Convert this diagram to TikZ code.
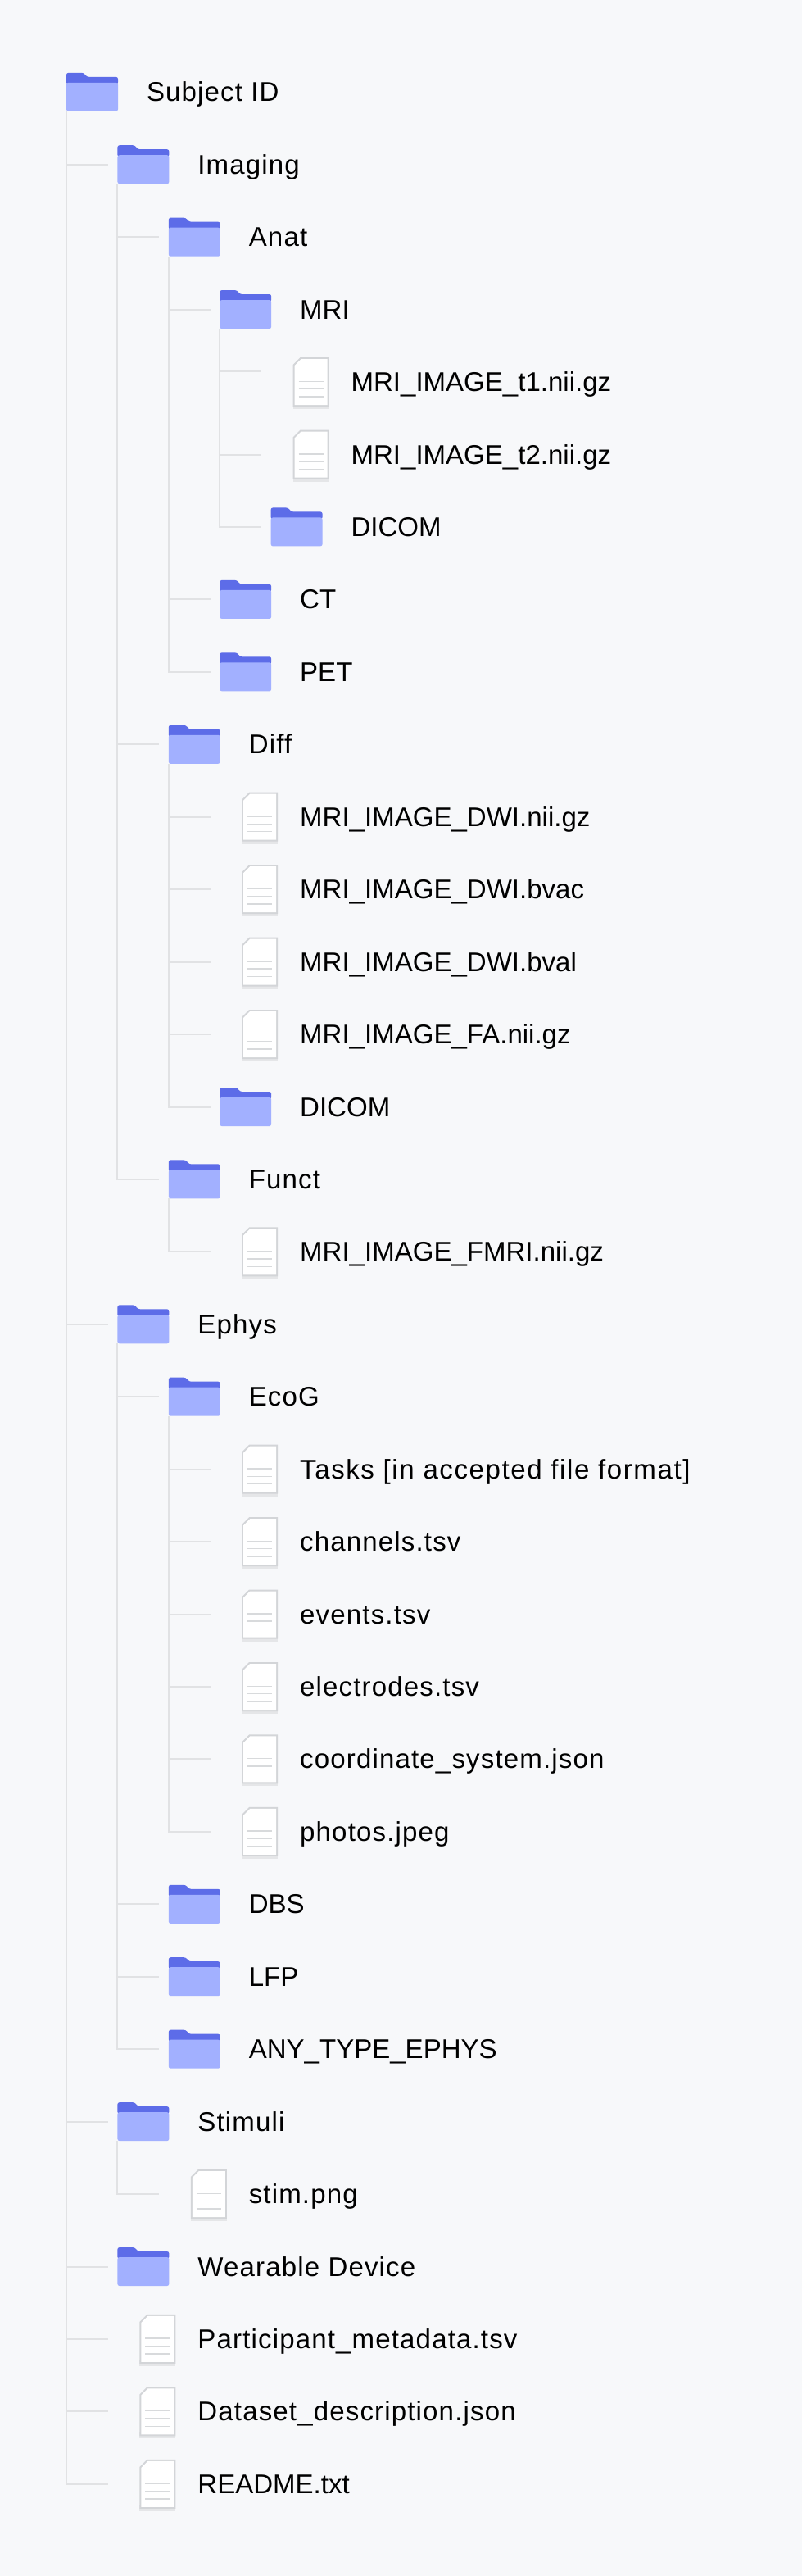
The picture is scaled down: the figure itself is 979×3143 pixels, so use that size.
\documentclass[tikz,border=0pt]{standalone}
\usepackage{fontspec}
\setmainfont{Liberation Sans}
\newfontfamily\lowfont[LetterSpace=3.5]{Liberation Sans}
\usepackage{xcolor}
\definecolor{pagebg}{HTML}{F7F8FA}
\definecolor{folderdark}{HTML}{5D6CE8}
\definecolor{folderlight}{HTML}{A2B0FF}
\definecolor{linkgray}{HTML}{E1E2E4}
\definecolor{sheetedge}{HTML}{D3D5D8}
\definecolor{sheetshade}{HTML}{E5E6E8}
\definecolor{sheetline}{HTML}{D8DADC}
\tikzset{
	folder/.style={inner sep=0, outer sep=0, minimum width=1.26cm, minimum height=0.94cm,
		append after command={\pgfextra{
			\begin{scope}[shift={(\tikzlastnode.north west)}]
				\fill[folderdark, rounded corners=0.05cm] (0,14) -- (0,0) -- (21,0) -- (25,5) -- (63,5) -- (63,14) -- cycle;
				\fill[folderlight, rounded corners=0.05cm] (0,12) -- (63,12) -- (63,47) -- (0,47) -- cycle;
			\end{scope}
		}}},
	sheet/.style={inner sep=0, outer sep=0, minimum width=0.88cm, minimum height=1.32cm,
		append after command={\pgfextra{
			\begin{scope}[shift={(\tikzlastnode.north west)}]
				\fill[sheetshade] (0,58) rectangle (44,66);
				\fill[sheetedge] (0,12) -- (9,3) -- (44,3) -- (44,63) -- (0,63) -- cycle;
				\fill[white] (2,13) -- (10,5) -- (42,5) -- (42,61) -- (2,61) -- cycle;
				\draw[sheetline, line width=0.03cm] (7,32.3) -- (37,32.3);
				\draw[sheetline, line width=0.03cm] (7,41.6) -- (37,41.6);
				\draw[sheetline, line width=0.03cm] (7,51) -- (37,51);
			\end{scope}
		}}},
	lbl/.style={anchor=base west, inner sep=0, outer sep=0, xshift=0.02cm, yshift=-0.23cm, text=black,
		font=\fontsize{18.8pt}{22pt}\selectfont},
	lowlbl/.style={lbl, font=\fontsize{18.8pt}{22pt}\selectfont\lowfont},
	link/.style={draw=linkgray, line width=0.04cm, shorten >=0.234cm},
	sheetlink/.style={draw=linkgray, line width=0.04cm, shorten >=0.774cm}
}

\begin{document}
\begin{tikzpicture}[x=0.02cm, y=-0.02cm]
\useasboundingbox (0,0) rectangle (979,3143);
\fill[pagebg] (0,0) rectangle (979,3143);

\node [folder] (subject) at (112.5,112.3) {};
\node [lowlbl] (subjectlbl) at (178,112.3) {Subject ID};
\node [folder] (imaging) at (174.9,200.7) {};
\node [lowlbl] (imaginglbl) at (240.4,200.7) {Imaging};
\node [folder] (anat) at (237.3,289.2) {};
\node [lowlbl] (anatlbl) at (302.8,289.2) {Anat};
\node [folder] (mri) at (299.7,377.6) {};
\node [lbl] (mrilbl) at (365.2,377.6) {MRI};
\node [sheet] (tone) at (379.6,466.1) {};
\node [lbl] (tonelbl) at (427.6,466.1) {MRI\_IMAGE\_t1.nii.gz};
\node [sheet] (ttwo) at (379.6,554.5) {};
\node [lbl] (ttwolbl) at (427.6,554.5) {MRI\_IMAGE\_t2.nii.gz};
\node [folder] (dicoma) at (362.1,642.9) {};
\node [lbl] (dicomalbl) at (427.6,642.9) {DICOM};
\node [folder] (ct) at (299.7,731.4) {};
\node [lbl] (ctlbl) at (365.2,731.4) {CT};
\node [folder] (pet) at (299.7,819.8) {};
\node [lbl] (petlbl) at (365.2,819.8) {PET};

\node [folder] (diff) at (237.3,908.3) {};
\node [lowlbl] (difflbl) at (302.8,908.3) {Diff};
\node [sheet] (dwinii) at (317.2,996.7) {};
\node [lbl] (dwiniilbl) at (365.2,996.7) {MRI\_IMAGE\_DWI.nii.gz};
\node [sheet] (bvac) at (317.2,1085.1) {};
\node [lbl] (bvaclbl) at (365.2,1085.1) {MRI\_IMAGE\_DWI.bvac};
\node [sheet] (bval) at (317.2,1173.6) {};
\node [lbl] (bvallbl) at (365.2,1173.6) {MRI\_IMAGE\_DWI.bval};
\node [sheet] (fa) at (317.2,1262) {};
\node [lbl] (falbl) at (365.2,1262) {MRI\_IMAGE\_FA.nii.gz};
\node [folder] (dicomb) at (299.7,1350.5) {};
\node [lbl] (dicomblbl) at (365.2,1350.5) {DICOM};

\node [folder] (funct) at (237.3,1438.9) {};
\node [lowlbl] (functlbl) at (302.8,1438.9) {Funct};
\node [sheet] (fmri) at (317.2,1527.3) {};
\node [lbl] (fmrilbl) at (365.2,1527.3) {MRI\_IMAGE\_FMRI.nii.gz};

\node [folder] (ephys) at (174.9,1615.8) {};
\node [lowlbl] (ephyslbl) at (240.4,1615.8) {Ephys};
\node [folder] (ecog) at (237.3,1704.2) {};
\node [lowlbl] (ecoglbl) at (302.8,1704.2) {EcoG};
\node [sheet] (tasks) at (317.2,1792.7) {};
\node [lowlbl] (taskslbl) at (365.2,1792.7) {\addfontfeature{LetterSpace=4.8}Tasks [in accepted file format]};
\node [sheet] (channels) at (317.2,1881.1) {};
\node [lowlbl] (channelslbl) at (365.2,1881.1) {channels.tsv};
\node [sheet] (events) at (317.2,1969.5) {};
\node [lowlbl] (eventslbl) at (365.2,1969.5) {events.tsv};
\node [sheet] (electrodes) at (317.2,2058) {};
\node [lowlbl] (electrodeslbl) at (365.2,2058) {electrodes.tsv};
\node [sheet] (coord) at (317.2,2146.4) {};
\node [lowlbl] (coordlbl) at (365.2,2146.4) {coordinate\_system.json};
\node [sheet] (photos) at (317.2,2234.9) {};
\node [lowlbl] (photoslbl) at (365.2,2234.9) {photos.jpeg};
\node [folder] (dbs) at (237.3,2323.3) {};
\node [lbl] (dbslbl) at (302.8,2323.3) {DBS};
\node [folder] (lfp) at (237.3,2411.7) {};
\node [lbl] (lfplbl) at (302.8,2411.7) {LFP};
\node [folder] (anytype) at (237.3,2500.2) {};
\node [lbl] (anytypelbl) at (302.8,2500.2) {ANY\_TYPE\_EPHYS};

\node [folder] (stimuli) at (174.9,2588.6) {};
\node [lowlbl] (stimulilbl) at (240.4,2588.6) {Stimuli};
\node [sheet] (stim) at (254.8,2677.1) {};
\node [lowlbl] (stimlbl) at (302.8,2677.1) {stim.png};
\node [folder] (wearable) at (174.9,2765.5) {};
\node [lowlbl] (wearablelbl) at (240.4,2765.5) {Wearable Device};
\node [sheet] (participant) at (192.4,2853.9) {};
\node [lowlbl] (participantlbl) at (240.4,2853.9) {Participant\_metadata.tsv};
\node [sheet] (dataset) at (192.4,2942.4) {};
\node [lowlbl] (datasetlbl) at (240.4,2942.4) {Dataset\_description.json};
\node [sheet] (readme) at (192.4,3030.8) {};
\node [lbl] (readmelbl) at (240.4,3030.8) {README.txt};

\draw [link] (subject.south west) |- (imaging.west);
\draw [link] (subject.south west) |- (ephys.west);
\draw [link] (subject.south west) |- (stimuli.west);
\draw [link] (subject.south west) |- (wearable.west);
\draw [sheetlink] (subject.south west) |- (participant.west);
\draw [sheetlink] (subject.south west) |- (dataset.west);
\draw [sheetlink] (subject.south west) |- (readme.west);

\draw [link] (imaging.south west) |- (anat.west);
\draw [link] (imaging.south west) |- (diff.west);
\draw [link] (imaging.south west) |- (funct.west);
\draw [link] (anat.south west) |- (mri.west);
\draw [link] (anat.south west) |- (ct.west);
\draw [link] (anat.south west) |- (pet.west);

\coordinate (toneend) at (319,453);
\draw [link, shorten >=0] (mri.south west) |- (toneend);
\draw [sheetlink] (mri.south west) |- (ttwo.west);
\draw [link] (mri.south west) |- (dicoma.west);

\draw [sheetlink] (diff.south west) |- (dwinii.west);
\draw [sheetlink] (diff.south west) |- (bvac.west);
\draw [sheetlink] (diff.south west) |- (bval.west);
\draw [sheetlink] (diff.south west) |- (fa.west);
\draw [link] (diff.south west) |- (dicomb.west);
\draw [sheetlink] (funct.south west) |- (fmri.west);

\draw [link] (ephys.south west) |- (ecog.west);
\draw [link] (ephys.south west) |- (dbs.west);
\draw [link] (ephys.south west) |- (lfp.west);
\draw [link] (ephys.south west) |- (anytype.west);
\draw [sheetlink] (ecog.south west) |- (tasks.west);
\draw [sheetlink] (ecog.south west) |- (channels.west);
\draw [sheetlink] (ecog.south west) |- (events.west);
\draw [sheetlink] (ecog.south west) |- (electrodes.west);
\draw [sheetlink] (ecog.south west) |- (coord.west);
\draw [sheetlink] (ecog.south west) |- (photos.west);
\draw [sheetlink] (stimuli.south west) |- (stim.west);
\end{tikzpicture}
\end{document}
